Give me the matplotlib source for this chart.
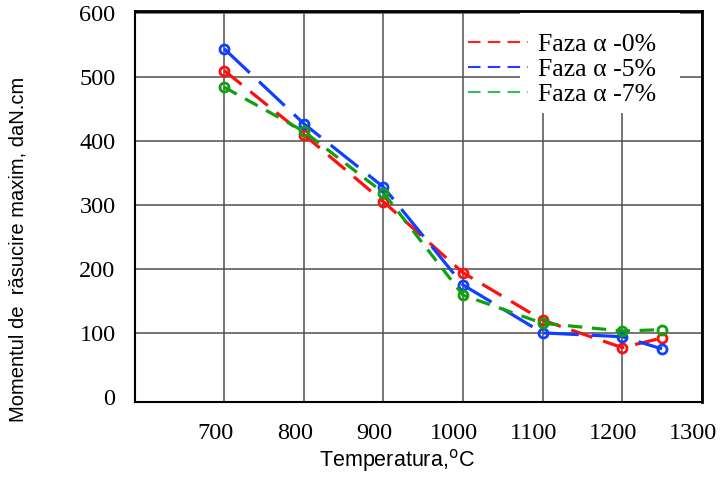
"""Maximum torsion moment vs temperature for three alpha-phase contents."""
import matplotlib
matplotlib.use("Agg")
import matplotlib.pyplot as plt
from matplotlib.lines import Line2D
from matplotlib.patches import Rectangle
from matplotlib.transforms import ScaledTranslation

# Data
temperature = [700, 800, 900, 1000, 1100, 1200, 1250]
moment_0 = [510, 410, 305, 194, 120, 77, 92]
moment_5 = [544, 427, 328, 175, 100, 94, 75]
moment_7 = [484, 415, 319, 159, 115, 103, 105]
series_labels = ["Faza α -0%", "Faza α -5%", "Faza α -7%"]

x_ticks = [700, 800, 900, 1000, 1100, 1200, 1300]
y_ticks = [0, 100, 200, 300, 400, 500, 600]

SERIF = "Liberation Serif"
SANS = "Liberation Sans"

fig = plt.figure(figsize=(7.23, 4.78), dpi=100)
ax = fig.add_axes([0.1867, 0.159, 0.784, 0.818])

styles = [
    dict(color="#ff1010", dashes=(7, 3.5)),
    dict(color="#1040ff", dashes=(11, 4)),
    dict(color="#10a010", dashes=(4.5, 3)),
]
for vals, st in zip([moment_0, moment_5, moment_7], styles):
    ax.plot(temperature, vals, color=st["color"], dashes=st["dashes"],
            lw=2.3, marker="o", ms=6.5, mfc="none", mec=st["color"], mew=2,
            zorder=3)

ax.set_xlim(588, 1300)
ax.set_ylim(-8, 603)
ax.set_xticks(x_ticks)
ax.set_yticks(y_ticks)
ax.grid(True, color="#505050", lw=1.1)
# zero line sits on the bottom frame in the original
ax.yaxis.get_gridlines()[0].set_visible(False)
ax.tick_params(length=0, labelsize=17.5)
ax.tick_params(axis="x", pad=15)
ax.tick_params(axis="y", pad=14)
for lab in ax.get_xticklabels() + ax.get_yticklabels():
    lab.set_fontfamily(SERIF)
for lab in ax.get_xticklabels():
    lab.set_transform(lab.get_transform() + ScaledTranslation(-0.09, 0, fig.dpi_scale_trans))

for side in ["top", "right"]:
    ax.spines[side].set_linewidth(2.0)
for side in ["left", "bottom"]:
    ax.spines[side].set_linewidth(1.5)
for sp in ax.spines.values():
    sp.set_color("black")

# white patch behind legend text, covering the grid
ax.add_patch(Rectangle((0.679, 0.739), 0.282, 0.26, transform=ax.transAxes,
                       facecolor="white", edgecolor="none", zorder=1.8))

leg_colors = ["#ff2020", "#2040ff", "#30c060"]
handles = [Line2D([], [], color=c, lw=1.5, dashes=(6, 3.5)) for c in leg_colors]
ax.legend(handles, series_labels, loc="upper left", bbox_to_anchor=(0.587, 0.943),
          frameon=False, prop={"family": SERIF, "size": 18.5},
          handlelength=2.33, handletextpad=0.39, labelspacing=0.08,
          borderaxespad=0, borderpad=0)

fig.text(0.025, 0.479, "Momentul de  răsucire maxim, daN.cm", rotation=90,
         ha="center", va="center", fontsize=14.5, family=SANS)
fig.text(0.549, 0.024, "Temperatura,$^{\\mathrm{o}}$C", ha="center", va="baseline",
         fontsize=15.5, family=SANS)

fig.savefig("out.png", dpi=100)
